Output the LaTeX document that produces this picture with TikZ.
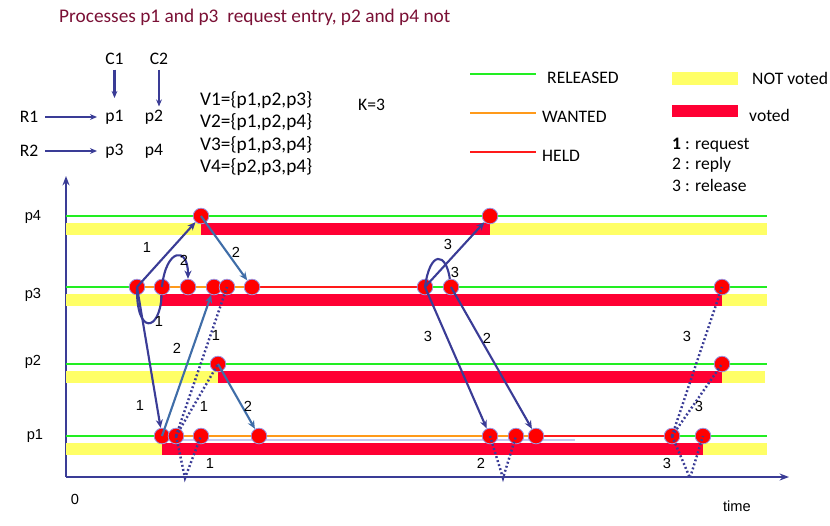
\documentclass[tikz,border=0pt]{standalone}
\usepackage{fontspec}
\setmainfont{Carlito}
\newfontfamily\lblfont{Liberation Sans}
\usetikzlibrary{arrows.meta}
\definecolor{msgblue}{HTML}{3A3C96}
\definecolor{repblue}{HTML}{3F6DA8}
\definecolor{relgreen}{HTML}{22EE22}
\definecolor{wantorange}{HTML}{FF9A1A}
\definecolor{heldred}{HTML}{FF1A1A}
\definecolor{votedred}{HTML}{FF0033}
\definecolor{notyellow}{HTML}{FFFF66}
\definecolor{titlered}{HTML}{7A1035}
\definecolor{dotrim}{HTML}{9A9AE6}
\definecolor{shadowline}{HTML}{C8C8F2}
\tikzset{
    proc/.style={circle, fill=red, draw=dotrim, line width=0.7pt, minimum size=0.47cm, inner sep=0pt},
    request/.style={draw=msgblue, line width=1.8pt, -{Stealth[length=7pt,width=6pt]}},
    reply/.style={draw=repblue, line width=1.8pt, -{Stealth[length=7pt,width=6pt]}},
    selfmsg/.style={draw=msgblue, line width=1.8pt},
    late/.style={draw=msgblue, line width=2.1pt, dash pattern=on 1.6pt off 2pt},
    released/.style={draw=relgreen, line width=1.8pt},
    wanted/.style={draw=wantorange, line width=1.8pt},
    held/.style={draw=heldred, line width=1.8pt},
    axis/.style={draw=msgblue, line width=2.2pt},
    cue/.style={draw=msgblue, line width=1.8pt, -{Stealth[length=6pt,width=5pt]}},
    lbl/.style={font=\lblfont\fontsize{12.5}{14}\selectfont, inner sep=1pt},
    tag/.style={font=\fontsize{15}{17}\selectfont, inner sep=1pt},
    txt/.style={font=\fontsize{15}{17}\selectfont, inner sep=0pt, anchor=west},
}
\begin{document}
\begin{tikzpicture}[x=0.03cm, y=-0.03cm]
\useasboundingbox (0,0) rectangle (830,526);

%% title and key
\node[txt, text=titlered, font=\fontsize{16.5}{18}\selectfont] (title) at (59,17) {Processes p1 and p3\ \ request entry, p2 and p4 not};
\node[tag] (c1) at (114.5,59) {C1};
\node[tag] (c2) at (159,59) {C2};
\node[tag] (r1) at (29,117) {R1};
\node[tag] (r2) at (29,151) {R2};
\node[tag] (tp1) at (114.5,117) {p1};
\node[tag] (tp2) at (154,117) {p2};
\node[tag] (tp3) at (114.5,151) {p3};
\node[tag] (tp4) at (154,151) {p4};
\draw[cue, shorten <=3pt, shorten >=9pt] (c1) -- (tp1);
\draw[cue, shorten <=3pt, shorten >=9pt] (c2) -- (c2 |- tp2);
\draw[cue, shorten <=5pt, shorten >=6pt] (r1) -- (tp1);
\draw[cue, shorten <=5pt, shorten >=6pt] (r2) -- (tp3);

\node[txt, font=\fontsize{16.5}{18}\selectfont] (v1set) at (200,100) {V1=\{p1,p2,p3\}};
\node[txt, font=\fontsize{16.5}{18}\selectfont] (v2set) at (200,122) {V2=\{p1,p2,p4\}};
\node[txt, font=\fontsize{16.5}{18}\selectfont] (v3set) at (200,145) {V3=\{p1,p3,p4\}};
\node[txt, font=\fontsize{16.5}{18}\selectfont] (v4set) at (200,167) {V4=\{p2,p3,p4\}};
\node[txt] (kval) at (358,105) {K=3};

%% legend
\draw[released] (470,74) -- (536,74);
\draw[wanted] (470,113) -- (536,113);
\draw[held] (470,152) -- (536,152);
\node[txt] (lrel) at (547,78) {RELEASED};
\node[txt] (lwant) at (542,117) {WANTED};
\node[txt] (lheld) at (542,156) {HELD};
\fill[notyellow] (672,72) rectangle (738,85);
\fill[votedred] (672,105) rectangle (738,117);
\node[txt] (lnot) at (752,78) {NOT voted};
\node[txt] (lvot) at (749,115) {voted};
\node[txt] (lreq) at (672,145) {\textbf{1} : request};
\node[txt] (lrep) at (672,165) {2 : reply};
\node[txt] (lrls) at (672,185) {3 : release};

%% axes
\coordinate (origin) at (66,477);
\coordinate (ytop) at (66,176);
\coordinate (xend) at (789,477);
\draw[axis, -{Stealth[length=8pt,width=6pt]}] (origin) -- (ytop);
\draw[axis, -{Stealth[length=8pt,width=6pt]}] (origin) -- (xend);
\node[lbl] (zero) at (75,499) {0};
\node[lbl] (time) at (737,506) {time};

\node[lbl] (np4) at (33,217) {p4};
\node[lbl] (np3) at (33,295) {p3};
\node[lbl] (np2) at (33,362) {p2};
\node[lbl] (np1) at (35,436) {p1};

%% voting bars
\fill[notyellow] (66,223) rectangle (201,235);
\fill[votedred] (201,223) rectangle (490,235);
\fill[notyellow] (490,223) rectangle (767,235);
\fill[notyellow] (66,294) rectangle (160,306);
\fill[votedred] (160,294) rectangle (722,306);
\fill[notyellow] (722,294) rectangle (767,306);
\fill[notyellow] (66,371) rectangle (218,383);
\fill[votedred] (218,371) rectangle (722,383);
\fill[notyellow] (722,371) rectangle (765,383);
\fill[notyellow] (66,443) rectangle (162,455);
\fill[votedred] (162,443) rectangle (703,455);
\fill[notyellow] (703,443) rectangle (767,455);

%% state lines
\draw[released] (66,216) -- (767,216);
\draw[released] (66,287) -- (137,287);
\draw[wanted] (137,287) -- (252,287);
\draw[held] (252,287) -- (425,287);
\draw[released] (425,287) -- (767,287);
\draw[released] (66,364) -- (767,364);
\draw[shadowline, line width=1.8pt] (175,440) -- (575,440);
\draw[released] (66,436) -- (162,436);
\draw[wanted] (162,436) -- (536,436);
\draw[held] (536,436) -- (672,436);
\draw[released] (672,436) -- (767,436);

%% events
\node[proc] (p4a) at (201,216) {};
\node[proc] (p4b) at (490,216) {};
\node[proc] (p3a) at (137,287) {};
\node[proc] (p3b) at (162,287) {};
\node[proc] (p3c) at (188,287) {};
\node[proc] (p3d) at (214,287) {};
\node[proc] (p3e) at (227,287) {};
\node[proc] (p3f) at (252,287) {};
\node[proc] (p3g) at (425,287) {};
\node[proc] (p3h) at (451,287) {};
\node[proc] (p3i) at (722,287) {};
\node[proc] (p2a) at (218,364) {};
\node[proc] (p2b) at (722,364) {};
\node[proc] (p1a) at (162,436) {};
\node[proc] (p1b) at (176,436) {};
\node[proc] (p1c) at (201,436) {};
\node[proc] (p1d) at (259,436) {};
\node[proc] (p1e) at (490,436) {};
\node[proc] (p1f) at (516,436) {};
\node[proc] (p1g) at (536,436) {};
\node[proc] (p1h) at (672,436) {};
\node[proc] (p1i) at (703,436) {};

\coordinate (dip1) at (185,478);
\coordinate (dip2) at (503,478);
\coordinate (dip3) at (690,478);

%% messages
\draw[request] (p3a.center) -- (p4a);
\draw[reply] (p4a.center) -- (p3f);
\draw[request] (p3b.center) .. controls (166,248) and (188,246) .. (p3c);
\draw[selfmsg] (p3a.center) .. controls (136,336) and (160,332) .. (p3b);
\draw[request] (p3a.center) -- (p1a);
\draw[reply] (p1a.center) -- (p3d);
\draw[reply] (p2a.center) -- (p1d);
\draw[late] (p1b.center) -- (p3e.center);
\draw[late] (p1b.center) -- (p2a.center);
\draw[late] (p1b.center) -- (dip1) -- (p1c.center);

\draw[request] (p3g.center) -- (p4b);
\draw[selfmsg] (p3g.center) .. controls (430,250) and (446,252) .. (p3h);
\draw[request] (p3g.center) -- (p1e);
\draw[request] (p3h.center) -- (p1g);
\draw[late] (p1e.center) -- (dip2) -- (p1f.center);
\draw[late] (p1h.center) -- (p3i.center);
\draw[late] (p1h.center) -- (p2b.center);
\draw[late] (p1h.center) -- (dip3) -- (p1i.center);

%% message labels
\node[lbl] (m1) at (147,247) {1};
\node[lbl] (m2) at (236,252) {2};
\node[lbl] (m3) at (184,260) {2};
\node[lbl] (m4) at (159,321) {1};
\node[lbl] (m5) at (140,405) {1};
\node[lbl] (m6) at (177,348) {2};
\node[lbl] (m7) at (216,335) {1};
\node[lbl] (m8) at (204,406) {1};
\node[lbl] (m9) at (248,406) {2};
\node[lbl] (m10) at (210,463) {1};
\node[lbl] (m11) at (448,244) {3};
\node[lbl] (m12) at (455,272) {3};
\node[lbl] (m13) at (428,336) {3};
\node[lbl] (m14) at (487,338) {2};
\node[lbl] (m15) at (481,463) {2};
\node[lbl] (m16) at (687,336) {3};
\node[lbl] (m17) at (699,406) {3};
\node[lbl] (m18) at (667,463) {3};
\end{tikzpicture}
\end{document}
